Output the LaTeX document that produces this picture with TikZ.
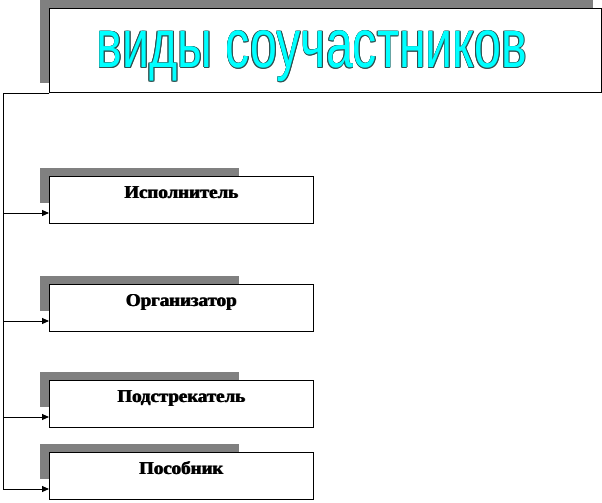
\documentclass[tikz,border=0pt]{standalone}
\usepackage{fontspec}
\setmainfont{Liberation Serif}
\newfontfamily\titlefont{Liberation Sans}
\usetikzlibrary{arrows.meta,calc}
\definecolor{shadowgray}{HTML}{808080}
\definecolor{titlecyan}{HTML}{00FFFF}
\definecolor{outlinecol}{HTML}{2F4F4F}
\newcommand\mytitletext{\resizebox*{430pt}{51pt}{\titlefont виды соучастников}}
\tikzset{
  shadowrect/.style={fill=shadowgray, draw=none},
  wbox/.style={draw=black, fill=white, line width=1pt, inner sep=0pt},
  lab/.style={font=\fontsize{18}{20}\selectfont\bfseries, inner sep=0pt, anchor=base},
  conn/.style={line width=0.9pt, -{Triangle[length=7pt,width=6pt]}},
}
\begin{document}
\begin{tikzpicture}[x=1pt,y=-1pt]
\useasboundingbox (0,0) rectangle (602,503);
\fill[shadowrect] (40,0) rectangle (593,83);
\node[wbox, minimum width=552pt, minimum height=84pt, anchor=north west] (title) at (49,8) {};
\foreach \dx/\dy in {0.8/0,-0.8/0,0/0.8,0/-0.8,0.6/0.6,-0.6/0.6,0.6/-0.6,-0.6/-0.6}
  \node[inner sep=0pt, text=outlinecol] at (312+\dx,56.5+\dy) {\mytitletext};
\node[inner sep=0pt, text=titlecyan] (ttl) at (312,56.5) {\mytitletext};
\foreach \i/\top/\txt in {1/176/Исполнитель, 2/284/Организатор, 3/380/Подстрекатель, 4/452/Пособник} {
  \fill[shadowrect] (40,\top-8) rectangle (239,\top+27);
  \node[wbox, minimum width=264pt, minimum height=47pt, anchor=north west] (b\i) at (49,\top) {};
  \node[lab, text=black!60] at (182,\top+22.8) {\scalebox{1.05}[1]{\txt}};
  \node[lab] at (181.5,\top+22) {\scalebox{1.05}[1]{\txt}};
  \node[lab] (l\i) at (181,\top+22) {\scalebox{1.05}[1]{\txt}};
  \draw[conn] (title.south west) -- ++(-46,0) |- ([yshift=11pt]b\i.south west);
}
\end{tikzpicture}
\end{document}
